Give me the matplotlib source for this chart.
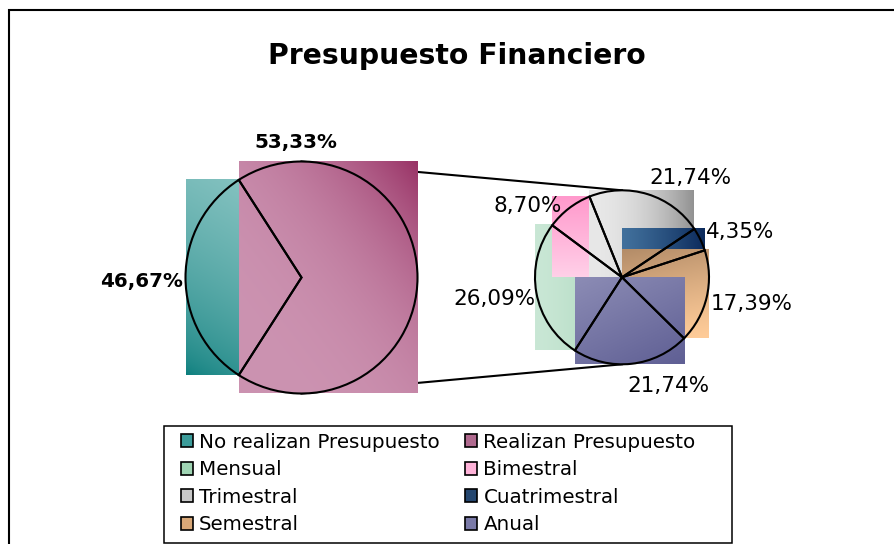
import matplotlib.pyplot as plt
import matplotlib.patches as mpatches
import numpy as np

titulo = 'Presupuesto Financiero'

# pastel principal (tamaños tal como se ven las porciones)
cat_principal = ['No realizan Presupuesto', 'Realizan Presupuesto']
val_principal = [7, 15]
etq_principal = ['46,67%', '53,33%']

# pastel secundario (desglose de los que realizan presupuesto)
cat_secundario = ['Mensual', 'Bimestral', 'Trimestral', 'Cuatrimestral', 'Semestral', 'Anual']
val_secundario = [6, 2, 5, 1, 4, 5]
etq_secundario = ['26,09%', '8,70%', '21,74%', '4,35%', '17,39%', '21,74%']

# degradados: color inicio, color fin, direccion, exponente
degradados = {
    'No realizan Presupuesto': ('#0a7d7c', '#8fc8c6', (0.35, 1.0), 0.6),
    'Realizan Presupuesto': ('#cc93b1', '#993366', (1.0, 1.0), 3.0),
    'Mensual': ('#c9e7d5', '#a3d2b5', (1.0, 0.0), 1.5),
    'Bimestral': ('#ffd0e8', '#ff99cc', (0.0, 1.0), 1.0),
    'Trimestral': ('#e8e8e8', '#929292', (1.0, 0.0), 2.0),
    'Cuatrimestral': ('#41709c', '#0c2b5c', (1.0, 0.0), 1.2),
    'Semestral': ('#ffcc99', '#b38c68', (-0.2, 1.0), 1.2),
    'Anual': ('#5f5f94', '#8c8cb5', (-0.6, 1.0), 1.0),
}
colores_leyenda = {
    'No realizan Presupuesto': '#3c9c9a', 'Realizan Presupuesto': '#b06a8f',
    'Mensual': '#9fd4b3', 'Bimestral': '#ffb3d9', 'Trimestral': '#c8c8c8',
    'Cuatrimestral': '#24466f', 'Semestral': '#d9a878', 'Anual': '#7a7aa8',
}


def imagen_degradado(c1, c2, direccion, exp, n=80):
    u, v = np.meshgrid(np.linspace(0, 1, n), np.linspace(0, 1, n))
    t = u * direccion[0] + v * direccion[1]
    t = (t - t.min()) / (t.max() - t.min())
    t = t ** exp
    a = np.array(plt.matplotlib.colors.to_rgb(c1))
    b = np.array(plt.matplotlib.colors.to_rgb(c2))
    return a * (1 - t)[..., None] + b * t[..., None]


def caja_porcion(w):
    ang = np.radians(np.linspace(w.theta1, w.theta2, 300))
    xs = np.r_[w.center[0] + w.r * np.cos(ang), w.center[0]]
    ys = np.r_[w.center[1] + w.r * np.sin(ang), w.center[1]]
    return xs.min(), xs.max(), ys.min(), ys.max()


W, H = 894, 544
fig = plt.figure(figsize=(W / 100, H / 100), dpi=100)
ax = fig.add_axes([0, 0, 1, 1])

c1, r1 = (301.5, H - 277.5), 116
c2, r2 = (622, H - 277.3), 87

frac1 = val_principal[0] / sum(val_principal)
w1, _ = ax.pie(val_principal, center=c1, radius=r1, startangle=180 - 180 * frac1,
               counterclock=True, wedgeprops=dict(edgecolor='black', linewidth=1.5))
w2, _ = ax.pie(val_secundario, center=c2, radius=r2, startangle=237.2,
               counterclock=False, wedgeprops=dict(edgecolor='black', linewidth=1.5))

z = 2.0
for w, cat in zip(list(w1) + list(w2), cat_principal + cat_secundario):
    x0, x1, y0, y1 = caja_porcion(w)
    ax.imshow(imagen_degradado(*degradados[cat]), extent=(x0, x1, y0, y1),
              origin='lower', aspect='auto', interpolation='bilinear', zorder=z)
    z += 0.01
    w.set_facecolor('none')
    w.set_zorder(10)

# lineas de union entre pasteles
ax.plot([c1[0], c2[0]], [c1[1] + r1, c2[1] + r2], color='black', lw=1.5, zorder=1)
ax.plot([c1[0], c2[0]], [c1[1] - r1, c2[1] - r2], color='black', lw=1.5, zorder=1)

# etiquetas
pos_principal = [(141.5, 281.5), (295.8, 142.5)]
for (x, y), t in zip(pos_principal, etq_principal):
    ax.text(x, H - y, t, ha='center', va='center', fontsize=14.3, fontweight='bold', zorder=12)
pos_secundario = [(494, 299), (527.7, 205.5), (690.5, 178), (740.5, 231.5), (752, 304), (668, 386)]
for (x, y), t in zip(pos_secundario, etq_secundario):
    ax.text(x, H - y, t, ha='center', va='center', fontsize=15.5, zorder=12)

ax.text(457, H - 64, titulo, ha='center', va='baseline', fontsize=20.3, fontweight='bold')

# leyenda
orden = [cat_principal[0], cat_secundario[0], cat_secundario[2], cat_secundario[4],
         cat_principal[1], cat_secundario[1], cat_secundario[3], cat_secundario[5]]
handles = [mpatches.Patch(facecolor=colores_leyenda[c], edgecolor='black', linewidth=1.2) for c in orden]
ax.legend(handles, orden, ncol=2, loc='upper left', bbox_to_anchor=(180.7, H - 432.5),
          bbox_transform=ax.transData, frameon=False, fontsize=14.3,
          handlelength=0.63, handleheight=0.63, handletextpad=0.3,
          columnspacing=1.26, labelspacing=0.43, borderpad=0, borderaxespad=0)
ax.add_patch(mpatches.Rectangle((164, H - 542.7), 567.7, 116.7, fill=False,
                                edgecolor='black', linewidth=1.1, zorder=1))

# borde del area del grafico
ax.add_patch(mpatches.Rectangle((9, -20), 1000, H - 10.3 + 20, fill=False,
                                edgecolor='black', linewidth=1.5))

ax.set_xlim(0, W)
ax.set_ylim(0, H)
ax.set_aspect('auto')
ax.axis('off')
fig.savefig('out.png', dpi=100)
